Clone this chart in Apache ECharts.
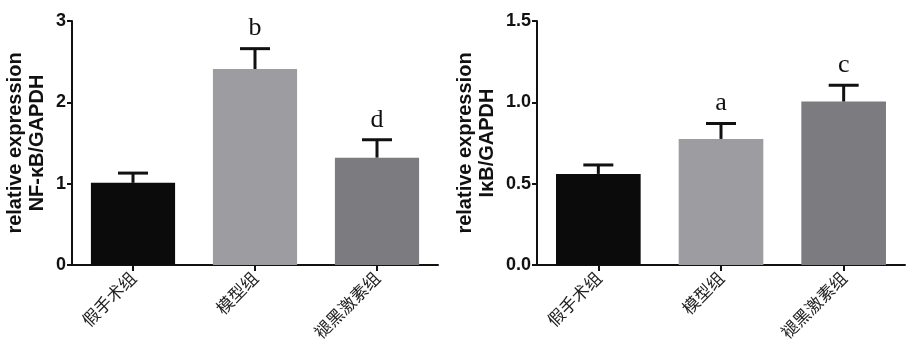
<!DOCTYPE html>
<html>
<head>
<meta charset="utf-8">
<script src="https://cdn.jsdelivr.net/npm/echarts@6/dist/echarts.min.js"></script>
<style>
  html, body { margin: 0; padding: 0; background: #fff; }
  #chart { width: 909px; height: 352px; }
</style>
</head>
<body>
<div id="chart"></div>
<script>
const groups = ['假手术组', '模型组', '褪黑激素组']
const barColors = ['#0b0b0b', '#9c9ca1', '#7b7b80']

// NF-κB/GAPDH
const nfkbMean = [1.01, 2.41, 1.32]
const nfkbErr = [0.12, 0.25, 0.22]
const nfkbLetters = ['', 'b', 'd']

// IκB/GAPDH
const ikbMean = [0.56, 0.775, 1.005]
const ikbErr = [0.055, 0.095, 0.10]
const ikbLetters = ['', 'a', 'c']

const chart = echarts.init(document.getElementById('chart'))

function yAxis(gridIndex, max, interval, fmt, lines, nameGap) {
  return {
    gridIndex: gridIndex,
    type: 'value',
    min: 0,
    max: max,
    interval: interval,
    name: lines.join('\n'),
    nameLocation: 'middle',
    nameGap: nameGap,
    nameRotate: 90,
    nameTextStyle: { fontFamily: 'Liberation Sans', fontWeight: 'bold', fontSize: 20, color: '#111', lineHeight: 22 },
    axisLine: { show: true, lineStyle: { color: '#111', width: 2 } },
    axisTick: { show: true, length: 5, lineStyle: { color: '#111', width: 2 } },
    axisLabel: { fontFamily: 'Liberation Sans', fontWeight: 'bold', fontSize: 18, color: '#111', margin: 6, formatter: fmt },
    splitLine: { show: false }
  }
}

function xAxis(gridIndex) {
  return {
    gridIndex: gridIndex,
    type: 'category',
    data: groups,
    axisLine: { lineStyle: { color: '#111', width: 2 } },
    axisTick: { show: true, alignWithLabel: true, length: 6, lineStyle: { color: '#111', width: 2 } },
    axisLabel: { rotate: 45, fontFamily: 'Noto Sans CJK SC', fontSize: 17, color: '#222', margin: 10, interval: 0 }
  }
}

function bars(idx, mean) {
  return {
    type: 'bar',
    xAxisIndex: idx,
    yAxisIndex: idx,
    barWidth: '69%',
    data: mean.map((v, i) => ({ value: v, itemStyle: { color: barColors[i] } })),
    silent: true
  }
}

function errors(idx, mean, err, letters) {
  return {
    type: 'custom',
    xAxisIndex: idx,
    yAxisIndex: idx,
    data: mean.map((v, i) => [i, v, v + err[i]]),
    z: 5,
    silent: true,
    renderItem: function (params, api) {
      const i = api.value(0)
      const base = api.coord([i, api.value(1)])
      const top = api.coord([i, api.value(2)])
      const half = 15
      const style = { stroke: '#111', lineWidth: 3 }
      const children = [
        { type: 'line', shape: { x1: base[0], y1: base[1], x2: top[0], y2: top[1] }, style: style },
        { type: 'line', shape: { x1: top[0] - half, y1: top[1], x2: top[0] + half, y2: top[1] }, style: style }
      ]
      const letter = letters[i]
      if (letter) {
        children.push({
          type: 'text',
          style: {
            text: letter, x: top[0], y: top[1] - 7,
            textAlign: 'center', textVerticalAlign: 'bottom',
            fontFamily: 'Liberation Serif', fontSize: 26, fill: '#111'
          }
        })
      }
      return { type: 'group', children: children }
    }
  }
}

chart.setOption({
  backgroundColor: '#fff',
  animation: false,
  grid: [
    { left: 72, right: 471, top: 21, bottom: 87, outerBoundsMode: 'none' },
    { left: 537, right: 4, top: 21, bottom: 87, outerBoundsMode: 'none' }
  ],
  xAxis: [xAxis(0), xAxis(1)],
  yAxis: [
    yAxis(0, 3, 1, v => String(v), ['relative expression', 'NF-κB/GAPDH'], 24),
    yAxis(1, 1.5, 0.5, v => v.toFixed(1), ['relative expression', 'IκB/GAPDH'], 39)
  ],
  series: [
    bars(0, nfkbMean),
    errors(0, nfkbMean, nfkbErr, nfkbLetters),
    bars(1, ikbMean),
    errors(1, ikbMean, ikbErr, ikbLetters)
  ]
})
</script>
</body>
</html>
